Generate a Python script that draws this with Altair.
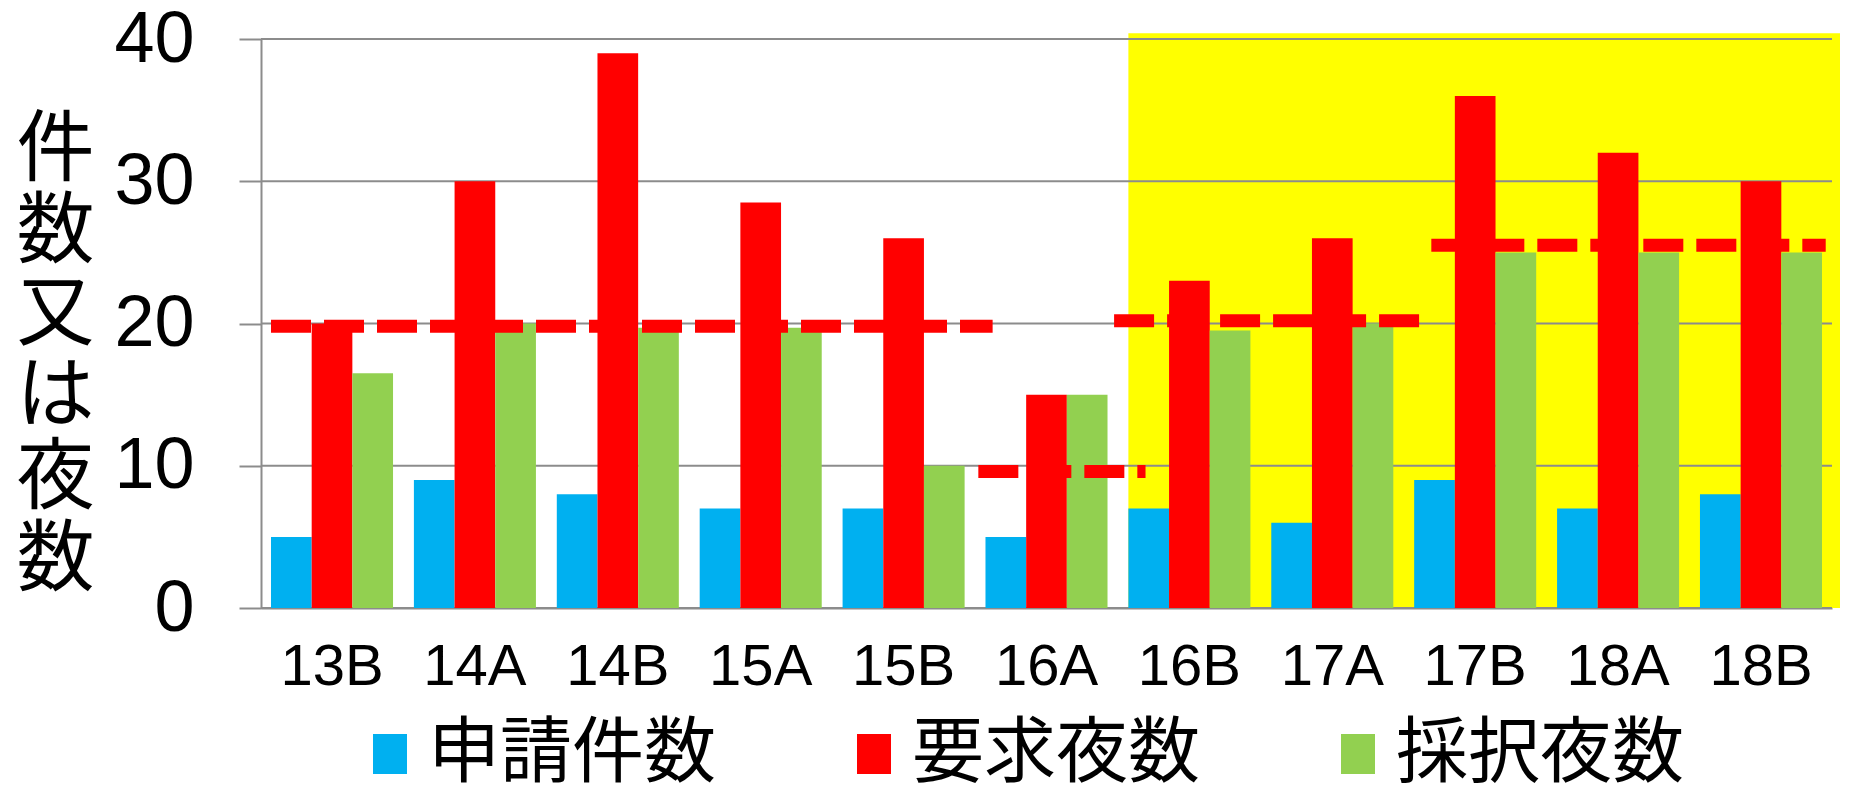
import altair as alt
import pandas as pd

# ---- data ----
categories = ["13B", "14A", "14B", "15A", "15B", "16A", "16B", "17A", "17B", "18A", "18B"]
series = ["申請件数", "要求夜数", "採択夜数"]
applications = [5, 9, 8, 7, 7, 5, 7, 6, 9, 7, 8]
requested = [20, 30, 39, 28.5, 26, 15, 23, 26, 36, 32, 30]
accepted = [16.5, 20, 19.7, 19.7, 10, 15, 19.5, 20, 25, 25, 25]
colors = ["#00B0F0", "#FF0000", "#92D050"]
y_ticks = [0, 10, 20, 30, 40]
y_title = ["件", "数", "又", "は", "夜", "数"]

# dashed reference segments, x in category units (0 = start of first group)
seg_id = [1, 1, 2, 2, 3, 3, 4, 4]
seg_u = [0.0, 5.05, 4.95, 6.12, 5.90, 8.05, 8.12, 10.88]
seg_y = [19.8, 19.8, 9.6, 9.6, 20.2, 20.2, 25.5, 25.5]

# yellow highlighted period
hl_u = [6.0, 10.98]
hl_y = [0, 40.4]

# ---- tables ----
rows = []
for i, c in enumerate(categories):
    for s, vals in zip(series, [applications, requested, accepted]):
        rows.append({"category": c, "series": s, "value": vals[i]})
bars_df = pd.DataFrame(rows)
seg_df = pd.DataFrame({"seg": seg_id, "u": seg_u, "y": seg_y})
hl_df = pd.DataFrame({"u0": [hl_u[0]], "u1": [hl_u[1]], "y0": [hl_y[0]], "y1": [hl_y[1]]})
tick_df = pd.DataFrame({"tick": y_ticks})

FONT = "Liberation Sans, Arial, Noto Sans CJK JP"
GRID = "#8C8C8C"
P_IN, P_OUT = 0.146, 0.07
n = len(categories)
qscale = alt.Scale(domain=[-P_OUT, n - P_IN + P_OUT], nice=False, zero=False)
yscale = alt.Scale(domain=[0, 40], nice=False)
yaxis = alt.Axis(
    values=y_ticks, grid=False, tickSize=22, tickColor=GRID, tickWidth=2,
    domainColor=GRID, domainWidth=2, labelFontSize=72, labelFont=FONT,
    labelColor="black", labelPadding=45,
    title=y_title, titleAngle=0, titleFontSize=78, titleLineHeight=82,
    titleX=-206, titleY=112, titleAlign="center", titleBaseline="middle",
    titleFont=FONT, titleFontWeight="normal", titleColor="black",
)


def Y(field):
    return alt.Y(field, scale=yscale, axis=yaxis)


highlight = alt.Chart(hl_df).mark_rect(color="#FFFF00").encode(
    x=alt.X("u0:Q", scale=qscale, axis=None),
    x2="u1:Q",
    y=Y("y0:Q"),
    y2="y1:Q",
)

grid = alt.Chart(tick_df).mark_rule(color=GRID, strokeWidth=2).encode(y=Y("tick:Q"))

bars = alt.Chart(bars_df).mark_bar().encode(
    x=alt.X(
        "category:N", sort=categories,
        scale=alt.Scale(paddingInner=P_IN, paddingOuter=P_OUT),
        axis=alt.Axis(title=None, labelAngle=0, labelFontSize=58, labelFont=FONT,
                      labelColor="black", ticks=False, tickSize=0, labelPadding=30,
                      domainColor=GRID, domainWidth=2),
    ),
    xOffset=alt.XOffset("series:N", sort=series,
                        scale=alt.Scale(domain=series, paddingInner=0, paddingOuter=0)),
    y=Y("value:Q"),
    color=alt.Color(
        "series:N",
        scale=alt.Scale(domain=series, range=colors),
        legend=alt.Legend(
            title=None, orient="none", legendX=93, legendY=679, direction="horizontal",
            symbolType="M-0.85,-1H0.85V1H-0.85Z", symbolSize=1600,
            symbolStrokeWidth=0, symbolOpacity=1, labelFontSize=72, labelFont=FONT,
            labelColor="black", labelOffset=2, columnPadding=121, labelLimit=1000,
            padding=0,
        ),
    ),
)

lines = alt.Chart(seg_df).mark_line(
    color="#FF0000", strokeWidth=13, strokeDash=[40, 13], strokeCap="butt"
).encode(
    x=alt.X("u:Q", scale=qscale, axis=None),
    y=Y("y:Q"),
    detail="seg:N",
)

chart = (
    alt.layer(highlight, grid, bars, lines)
    .resolve_scale(x="independent")
    .properties(
        width=1571, height=569,
        autosize=alt.AutoSizeParams(type="none"),
        padding={"left": 253, "top": 31, "right": 9, "bottom": 177},
        background="white",
    )
    .configure_view(stroke=None)
)

chart.save("out.html", embed_options={"renderer": "svg", "actions": False})
